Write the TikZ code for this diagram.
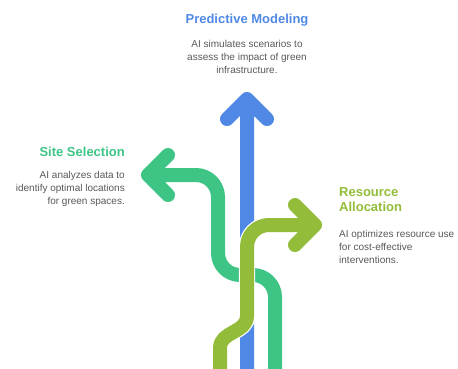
\documentclass[tikz,border=0pt]{standalone}
\usepackage{fontspec}
\setmainfont{Liberation Sans}
\usepackage{xcolor}
\usepackage{tikz}
\definecolor{pmblue}{RGB}{80,137,229}
\definecolor{ssgreen}{RGB}{62,197,133}
\definecolor{raolive}{RGB}{146,188,58}
\definecolor{desc}{RGB}{88,88,88}

\begin{document}
\begin{tikzpicture}[x=1pt,y=-1pt,
	route/.style={draw=white,line width=1.2pt,double=#1,double distance=14pt,line cap=round,line join=round},
	heading/.style={font=\fontsize{13}{15}\selectfont\bfseries,text=#1,inner sep=0pt},
	blurb/.style={font=\fontsize{10}{13}\selectfont,text=desc,inner sep=0pt}]
	\useasboundingbox (0,0) rectangle (458,368);
	\coordinate (pm) at (247,99);
	\coordinate (ss) at (148,175);
	\coordinate (ra) at (315,225);
	\draw[route=pmblue] (247,380) -- (pm) (pm) -- ++(-20,20) (pm) -- ++(20,20);
	\draw[route=ssgreen] (275,380) [rounded corners=22pt] -- (275,275) -- (218,275) -- (218,175) -- (ss) [sharp corners] (ss) -- ++(20,-20) (ss) -- ++(20,20);
	\draw[route=raolive] (220,380) -- (220,348) .. controls (220,331) and (247,333) .. (247,316) -- (247,247) arc[start angle=180,end angle=90,radius=22pt] -- (ra) (ra) -- ++(-20,-20) (ra) -- ++(-20,20);
	\node[heading=pmblue] (pmh) at (247,20) {Predictive Modeling};
	\node[blurb,align=center] (pmd) at (247,57) {AI simulates scenarios to\\assess the impact of green\\infrastructure.};
	\node[heading=ssgreen,anchor=east] (ssh) at (125,152) {Site Selection};
	\node[blurb,align=right,anchor=east] (ssd) at (125,189) {AI analyzes data to\\identify optimal locations\\for green spaces.};
	\node[heading=raolive,align=left,anchor=west] (rah) at (339,200) {Resource\\Allocation};
	\node[blurb,align=left,anchor=west] (rad) at (339,247) {AI optimizes resource use\\for cost-effective\\interventions.};
\end{tikzpicture}
\end{document}
